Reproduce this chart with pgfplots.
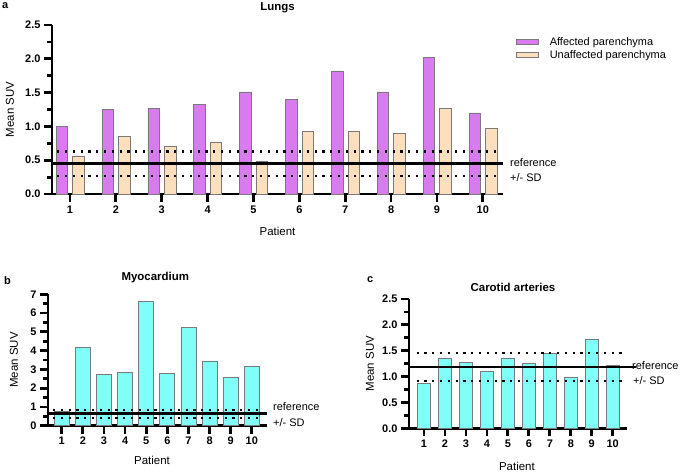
\documentclass[border=0pt]{standalone}
\usepackage{pgfplots}
\pgfplotsset{compat=1.18}
\usepackage{fontspec}
\setmainfont{Liberation Sans}

\definecolor{affected}{HTML}{D77BEF}
\definecolor{unaffected}{HTML}{FDDFBE}
\definecolor{cyanbar}{HTML}{7FFFF8}
\definecolor{edgegray}{HTML}{7A7A7A}

\pgfplotsset{
  panel/.style={
    scale only axis,
    anchor=south west,
    axis x line=bottom, axis y line=left,
    axis line style={-, line width=2.6bp},
    xtick align=outside, ytick align=outside,
    tick style={line width=2.8bp, black},
    major tick style={line width=2.8bp, black},
    minor tick style={line width=2.8bp, black},
    major tick length=8bp, minor tick length=5bp,
    xtick={1,...,10},
    minor y tick num=1,
    ticklabel style={font=\fontsize{11}{13}\selectfont\bfseries},
    /pgf/number format/assume math mode=true,
    label style={font=\fontsize{11.5}{13}\selectfont},
    every axis title shift=0pt,
    title style={font=\fontsize{11.5}{13}\selectfont\bfseries, anchor=center, yshift=0pt},
    clip=false, ymin=0,
  },
  refline/.style={black, line width=2.5bp},
  sdline/.style={black, line width=2.2bp, dash pattern=on 2.2bp off 5.6bp},
  bars/.style={ybar, draw=edgegray, line width=0.7bp,
    legend image code/.code={\draw[##1] (0bp,-2.5bp) rectangle (22bp,2.5bp);}},
}

\begin{document}
\begin{tikzpicture}
\useasboundingbox (0,0) rectangle (685bp,-473bp);

% a: lungs
\begin{axis}[panel,
  at={(52bp,-194bp)}, width=451bp, height=169bp,
  xmin=0.608, xmax=10.44, ymax=2.5,
  ytick={0,0.5,...,2.5},
  yticklabel style={/pgf/number format/.cd, fixed, fixed zerofill, precision=1},
  title={Lungs}, title style={at={(axis description cs:0.5,1.10)}},
  xlabel={Patient}, xlabel style={at={(axis description cs:0.5,-0.219)}, anchor=center},
  ylabel={Mean SUV}, ylabel style={at={(axis description cs:-0.093,0.5)}, anchor=center},
  legend style={at={(axis description cs:1.022,0.953)}, anchor=north west,
    draw=none, fill=none, font=\fontsize{11}{13}\selectfont, row sep=0bp,
    nodes={inner xsep=2bp},
    /tikz/every odd column/.append style={column sep=9bp}},
  legend cell align=left,
]
\addplot[bars, bar width=11.5bp, bar shift=-8bp, fill=affected] coordinates {
  (1,1.00) (2,1.25) (3,1.27) (4,1.33) (5,1.51) (6,1.40) (7,1.82) (8,1.51) (9,2.02) (10,1.20)};
\addplot[bars, bar width=11.5bp, bar shift=8.5bp, fill=unaffected] coordinates {
  (1,0.55) (2,0.85) (3,0.70) (4,0.76) (5,0.49) (6,0.92) (7,0.92) (8,0.89) (9,1.27) (10,0.97)};
\legend{Affected parenchyma, Unaffected parenchyma}
\addplot[refline, forget plot] coordinates {(0.608,0.45) (10.44,0.45)};
\addplot[sdline, forget plot] coordinates {(0.72,0.63) (10.35,0.63)};
\addplot[sdline, forget plot] coordinates {(0.72,0.27) (10.35,0.27)};
\node[anchor=west, font=\fontsize{11}{13}\selectfont, inner sep=0pt] at (axis cs:10.44,0.47) [xshift=7bp] {reference};
\node[anchor=west, font=\fontsize{11}{13}\selectfont, inner sep=0pt] at (axis cs:10.44,0.25) [xshift=7bp] {+/- SD};
\end{axis}

% b: myocardium
\begin{axis}[panel,
  at={(48bp,-425.7bp)}, width=219bp, height=131.4bp,
  xmin=0.35, xmax=10.72, ymax=7,
  ytick={0,1,...,7},
  title={Myocardium}, title style={at={(axis description cs:0.49,1.124)}},
  xlabel={Patient}, xlabel style={at={(axis description cs:0.475,-0.266)}, anchor=center},
  ylabel={Mean SUV}, ylabel style={at={(axis description cs:-0.155,0.5)}, anchor=center},
]
\addplot[bars, bar width=15bp, fill=cyanbar] coordinates {
  (1,0.75) (2,4.15) (3,2.75) (4,2.83) (5,6.60) (6,2.80) (7,5.25) (8,3.45) (9,2.60) (10,3.15)};
\addplot[refline] coordinates {(0.35,0.66) (10.72,0.66)};
\addplot[sdline] coordinates {(0.59,0.85) (10.4,0.85)};
\addplot[sdline] coordinates {(0.59,0.43) (10.4,0.43)};
\node[anchor=west, font=\fontsize{11}{13}\selectfont, inner sep=0pt] at (axis cs:10.72,1.0) [xshift=6bp] {reference};
\node[anchor=west, font=\fontsize{11}{13}\selectfont, inner sep=0pt] at (axis cs:10.72,0.15) [xshift=6bp] {+/- SD};
\end{axis}

% c: carotid arteries
\begin{axis}[panel,
  at={(409bp,-428.3bp)}, width=218bp, height=129.3bp,
  xmin=0.284, xmax=10.68, ymax=2.5,
  ytick={0,0.5,...,2.5},
  yticklabel style={/pgf/number format/.cd, fixed, fixed zerofill, precision=1},
  title={Carotid arteries}, title style={at={(axis description cs:0.477,1.093)}},
  xlabel={Patient}, xlabel style={at={(axis description cs:0.495,-0.297)}, anchor=center},
  ylabel={Mean SUV}, ylabel style={at={(axis description cs:-0.179,0.5)}, anchor=center},
]
\addplot[bars, bar width=13.3bp, fill=cyanbar] coordinates {
  (1,0.87) (2,1.35) (3,1.27) (4,1.11) (5,1.36) (6,1.26) (7,1.44) (8,0.99) (9,1.72) (10,1.22)};
\addplot[refline] coordinates {(0.284,1.19) (11.11,1.19)};
\addplot[sdline] coordinates {(0.65,1.46) (10.45,1.46)};
\addplot[sdline] coordinates {(0.65,0.91) (10.45,0.91)};
\node[anchor=west, font=\fontsize{11}{13}\selectfont, inner sep=0pt] at (axis cs:11.11,1.22) [xshift=-4bp] {reference};
\node[anchor=west, font=\fontsize{11}{13}\selectfont, inner sep=0pt] at (axis cs:11.11,0.93) [xshift=-3bp] {+/- SD};
\end{axis}

\node[anchor=north west, inner sep=0pt, font=\fontsize{11}{13}\selectfont\bfseries] at (2bp,-2bp) {a};
\node[anchor=north west, inner sep=0pt, font=\fontsize{11}{13}\selectfont\bfseries] at (4bp,-276bp) {b};
\node[anchor=north west, inner sep=0pt, font=\fontsize{11}{13}\selectfont\bfseries] at (367bp,-276bp) {c};
\end{tikzpicture}
\end{document}
